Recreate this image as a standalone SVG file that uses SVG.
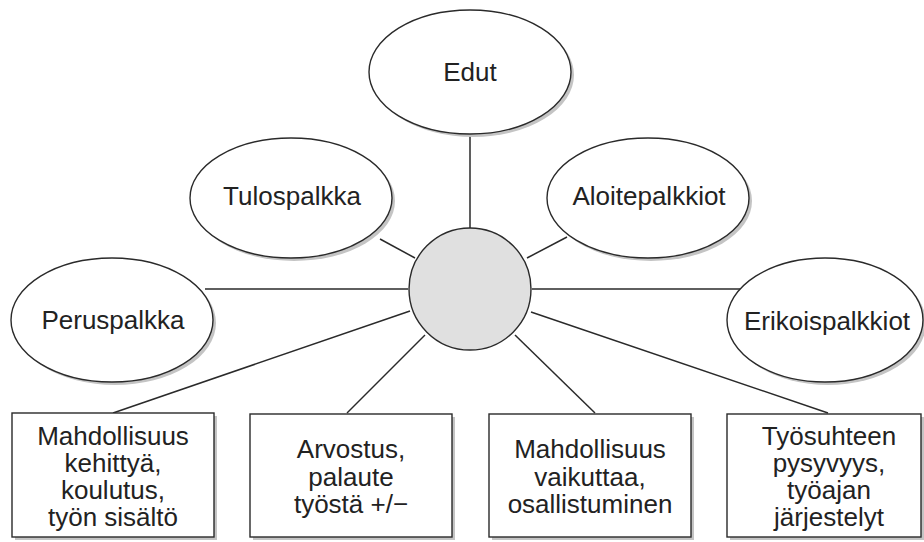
<svg xmlns="http://www.w3.org/2000/svg" width="924" height="542" viewBox="0 0 924 542">
<style>
.bg{fill:#ffffff}
.sh{fill:#c4c4c4;stroke:none}
.nd{fill:#ffffff;stroke:#2a2a2a;stroke-width:1.4}
.hub{fill:#e0e0e0;stroke:#2a2a2a;stroke-width:1.4}
.ln{stroke:#2a2a2a;stroke-width:1.5;fill:none}
text{font-family:"Liberation Sans",Arial,sans-serif;font-size:26px;fill:#222;text-anchor:middle}
</style>
<rect class="bg" x="0" y="0" width="924" height="542"/>
<g id="connectors">
<line class="ln" x1="470" y1="133" x2="470" y2="228"/>
<line class="ln" x1="380" y1="239" x2="415" y2="258"/>
<line class="ln" x1="567" y1="237" x2="527" y2="258"/>
<line class="ln" x1="205" y1="289" x2="408" y2="289"/>
<line class="ln" x1="532" y1="289" x2="740" y2="289"/>
<line class="ln" x1="410" y1="311" x2="113" y2="413"/>
<line class="ln" x1="425" y1="335" x2="347" y2="413"/>
<line class="ln" x1="515" y1="335" x2="595" y2="413"/>
<line class="ln" x1="531" y1="312" x2="828" y2="413"/>
</g>
<g id="hub">
<circle class="hub" cx="470" cy="289" r="61"/>
</g>
<g id="edut">
<ellipse class="sh" cx="473" cy="75" rx="101" ry="62"/>
<ellipse class="nd" cx="470" cy="72" rx="101" ry="62"/>
<text x="470" y="81">Edut</text>
</g>
<g id="tulospalkka">
<ellipse class="sh" cx="294" cy="201" rx="101" ry="60"/>
<ellipse class="nd" cx="291" cy="198" rx="101" ry="60"/>
<text x="292" y="205">Tulospalkka</text>
</g>
<g id="aloitepalkkiot">
<ellipse class="sh" cx="651" cy="201" rx="101" ry="60"/>
<ellipse class="nd" cx="648" cy="198" rx="101" ry="60"/>
<text x="649" y="205">Aloitepalkkiot</text>
</g>
<g id="peruspalkka">
<ellipse class="sh" cx="115" cy="323" rx="101" ry="62"/>
<ellipse class="nd" cx="112" cy="320" rx="101" ry="62"/>
<text x="113" y="329">Peruspalkka</text>
</g>
<g id="erikoispalkkiot">
<ellipse class="sh" cx="828" cy="323" rx="98" ry="62"/>
<ellipse class="nd" cx="825" cy="320" rx="98" ry="62"/>
<text x="827" y="330">Erikoispalkkiot</text>
</g>
<g id="box1">
<rect class="sh" x="15" y="416" width="202" height="124"/>
<rect class="nd" x="12" y="413" width="202" height="124"/>
<text x="113" y="445">Mahdollisuus</text>
<text x="113" y="472">kehittyä,</text>
<text x="113" y="499">koulutus,</text>
<text x="113" y="526">työn sisältö</text>
</g>
<g id="box2">
<rect class="sh" x="253" y="417" width="202" height="123"/>
<rect class="nd" x="250" y="414" width="202" height="123"/>
<text x="351" y="458">Arvostus,</text>
<text x="351" y="486">palaute</text>
<text x="351" y="513">työstä +/−</text>
</g>
<g id="box3">
<rect class="sh" x="492" y="417" width="202" height="123"/>
<rect class="nd" x="489" y="414" width="202" height="123"/>
<text x="590" y="458">Mahdollisuus</text>
<text x="590" y="486">vaikuttaa,</text>
<text x="590" y="513">osallistuminen</text>
</g>
<g id="box4">
<rect class="sh" x="730" y="417" width="196" height="123"/>
<rect class="nd" x="727" y="414" width="194" height="123"/>
<text x="829" y="445">Työsuhteen</text>
<text x="829" y="472">pysyvyys,</text>
<text x="829" y="499">työajan</text>
<text x="829" y="526">järjestelyt</text>
</g>
</svg>
